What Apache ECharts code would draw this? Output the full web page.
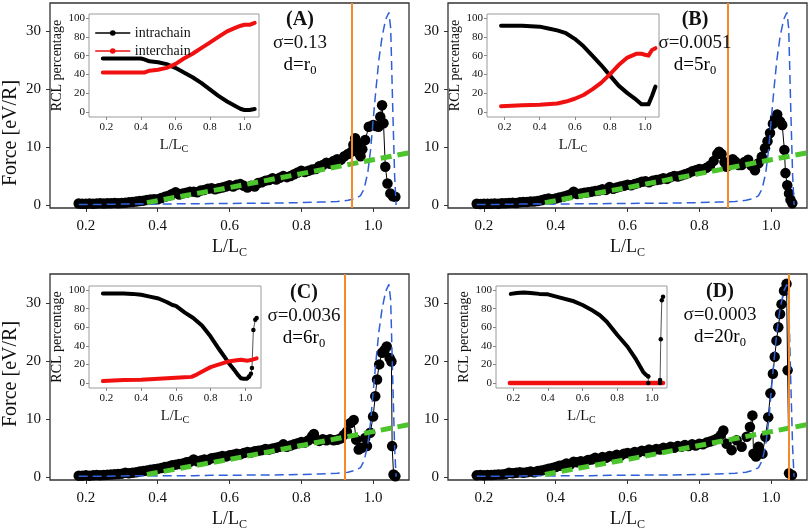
<!DOCTYPE html>
<html><head><meta charset="utf-8">
<script src="https://cdn.jsdelivr.net/npm/echarts@6/dist/echarts.min.js"></script>
<style>html,body{margin:0;padding:0;background:#fff}#c{width:810px;height:530px}</style>
</head><body><div id="c"></div>
<script>
// ---------------- DATA ----------------
const forceA = [[0.18,0.25],[0.19,0.2],[0.2,0.2],[0.21,0.25],[0.22,0.2],[0.23,0.25],[0.24,0.3],[0.25,0.25],[0.26,0.3],[0.27,0.3],[0.28,0.35],[0.29,0.3],[0.3,0.35],[0.31,0.4],[0.32,0.45],[0.33,0.5],[0.34,0.6],[0.35,0.7],[0.36,0.75],[0.37,0.85],[0.38,0.95],[0.39,1.0],[0.4,1.0],[0.41,1.2],[0.42,1.4],[0.43,1.6],[0.44,1.9],[0.45,2.2],[0.46,1.8],[0.47,2.0],[0.48,2.1],[0.49,2.3],[0.5,2.3],[0.51,2.2],[0.52,2.5],[0.53,2.6],[0.54,2.8],[0.55,2.9],[0.56,2.7],[0.57,2.9],[0.58,3.0],[0.59,3.2],[0.6,3.4],[0.61,3.2],[0.62,3.5],[0.63,3.6],[0.64,3.3],[0.65,3.0],[0.66,3.3],[0.67,3.2],[0.68,3.8],[0.69,3.9],[0.7,4.2],[0.71,4.3],[0.72,4.6],[0.73,4.4],[0.74,4.7],[0.75,5.0],[0.76,4.8],[0.77,5.0],[0.78,5.3],[0.79,5.6],[0.8,5.9],[0.81,5.7],[0.82,5.9],[0.83,6.1],[0.84,6.2],[0.85,6.7],[0.86,6.9],[0.87,7.3],[0.88,7.1],[0.89,7.6],[0.9,7.9],[0.91,7.8],[0.92,8.4],[0.93,8.8],[0.94,9.2],[0.945,10.4],[0.95,11.5],[0.955,10.5],[0.96,9.0],[0.965,8.4],[0.97,9.6],[0.978,11.2],[0.988,13.5],[1.0,13.8],[1.008,13.6],[1.015,13.5],[1.02,15.2],[1.025,17.2],[1.029,14.1],[1.034,6.6],[1.04,3.7],[1.048,2.0],[1.055,1.5],[1.062,1.4]];
const forceB = [[0.18,0.2],[0.19,0.15],[0.2,0.2],[0.21,0.2],[0.22,0.2],[0.23,0.25],[0.24,0.2],[0.25,0.3],[0.26,0.3],[0.27,0.35],[0.28,0.4],[0.29,0.35],[0.3,0.45],[0.31,0.5],[0.32,0.5],[0.33,0.6],[0.34,0.6],[0.35,0.7],[0.36,0.8],[0.37,1.0],[0.38,1.1],[0.39,1.0],[0.4,1.1],[0.41,1.3],[0.42,1.4],[0.43,1.6],[0.44,1.8],[0.45,2.3],[0.46,1.9],[0.47,2.0],[0.48,2.1],[0.49,2.2],[0.5,2.3],[0.51,2.4],[0.52,2.5],[0.53,2.7],[0.54,2.6],[0.55,3.1],[0.56,2.8],[0.57,3.0],[0.58,3.2],[0.59,3.3],[0.6,3.5],[0.61,3.4],[0.62,3.6],[0.63,3.8],[0.64,4.0],[0.65,4.1],[0.66,3.9],[0.67,4.2],[0.68,4.3],[0.69,4.4],[0.7,4.6],[0.71,4.5],[0.72,4.8],[0.73,5.0],[0.74,4.9],[0.75,5.1],[0.76,5.3],[0.77,5.5],[0.78,5.8],[0.79,6.0],[0.8,6.2],[0.81,6.1],[0.82,6.4],[0.83,6.8],[0.84,7.6],[0.85,8.8],[0.855,9.2],[0.862,8.8],[0.87,7.4],[0.876,6.6],[0.885,7.2],[0.893,7.9],[0.9,7.5],[0.91,6.9],[0.918,6.9],[0.926,7.4],[0.936,7.8],[0.945,6.8],[0.955,6.0],[0.965,7.2],[0.974,8.3],[0.983,9.8],[0.99,11.0],[0.997,12.4],[1.005,14.0],[1.011,15.0],[1.017,15.6],[1.025,14.4],[1.031,13.8],[1.037,9.5],[1.04,5.5],[1.045,3.4],[1.05,2.0],[1.054,0.9],[1.059,0.3]];
const forceC = [[0.18,0.2],[0.19,0.2],[0.2,0.25],[0.21,0.2],[0.22,0.25],[0.23,0.3],[0.24,0.25],[0.25,0.3],[0.26,0.35],[0.27,0.4],[0.28,0.45],[0.29,0.5],[0.3,0.55],[0.31,0.7],[0.32,0.6],[0.33,0.7],[0.34,0.8],[0.35,0.9],[0.36,1.0],[0.37,1.1],[0.38,1.2],[0.39,1.3],[0.4,1.4],[0.41,1.5],[0.42,1.7],[0.43,1.8],[0.44,2.0],[0.45,2.1],[0.46,2.2],[0.47,2.3],[0.48,2.5],[0.49,2.6],[0.5,3.0],[0.51,2.7],[0.52,2.8],[0.53,3.0],[0.54,2.9],[0.55,3.2],[0.56,3.3],[0.57,3.4],[0.58,3.6],[0.59,3.5],[0.6,3.7],[0.61,3.8],[0.62,4.0],[0.63,3.9],[0.64,4.1],[0.65,4.3],[0.66,4.2],[0.67,4.4],[0.68,4.5],[0.69,4.6],[0.7,4.8],[0.71,4.7],[0.72,4.9],[0.73,5.0],[0.74,5.2],[0.75,5.6],[0.76,5.2],[0.77,5.4],[0.78,5.6],[0.79,5.8],[0.8,6.0],[0.81,5.9],[0.82,6.3],[0.83,7.0],[0.835,7.4],[0.84,6.5],[0.85,6.2],[0.86,6.5],[0.87,6.3],[0.88,6.5],[0.89,6.3],[0.9,6.4],[0.909,6.6],[0.918,7.2],[0.927,7.8],[0.937,9.3],[0.946,9.8],[0.953,6.4],[0.96,4.7],[0.969,5.0],[0.978,6.7],[0.983,5.3],[0.992,7.6],[1.0,10.4],[1.006,13.9],[1.011,16.8],[1.017,19.4],[1.025,21.4],[1.032,21.9],[1.038,22.5],[1.046,20.5],[1.051,19.9],[1.053,5.3],[1.057,0.4],[1.062,0.1]];
const forceD = [[0.18,0.25],[0.19,0.3],[0.2,0.25],[0.21,0.3],[0.22,0.3],[0.23,0.35],[0.24,0.4],[0.25,0.4],[0.26,0.5],[0.27,0.7],[0.28,0.6],[0.29,0.7],[0.3,0.8],[0.31,0.7],[0.32,0.8],[0.33,0.9],[0.34,0.8],[0.35,1.0],[0.36,1.1],[0.37,1.2],[0.38,1.4],[0.39,1.5],[0.4,1.7],[0.41,1.9],[0.42,2.0],[0.43,2.3],[0.44,2.1],[0.45,2.6],[0.46,2.5],[0.47,2.7],[0.48,2.6],[0.49,2.9],[0.5,3.0],[0.51,3.3],[0.52,3.0],[0.53,3.4],[0.54,3.3],[0.55,3.6],[0.56,3.5],[0.57,3.8],[0.58,3.6],[0.59,4.0],[0.6,4.1],[0.61,4.0],[0.62,4.3],[0.63,4.2],[0.64,4.5],[0.65,4.4],[0.66,4.7],[0.67,4.5],[0.68,4.8],[0.69,4.7],[0.7,5.0],[0.71,4.9],[0.72,5.2],[0.73,5.0],[0.74,5.3],[0.75,5.2],[0.76,5.5],[0.77,5.3],[0.78,5.6],[0.79,5.4],[0.8,5.7],[0.81,5.6],[0.82,5.9],[0.83,6.1],[0.84,6.3],[0.85,6.6],[0.86,7.2],[0.867,8.0],[0.876,5.7],[0.89,4.6],[0.904,6.3],[0.918,5.2],[0.932,6.9],[0.941,8.6],[0.948,10.6],[0.951,4.0],[0.958,3.5],[0.965,5.2],[0.976,4.0],[0.984,6.9],[0.992,10.3],[0.998,14.4],[1.005,17.8],[1.01,20.7],[1.015,23.5],[1.02,25.8],[1.025,28.1],[1.029,29.8],[1.036,32.1],[1.043,33.3],[1.046,18.4],[1.05,0.6],[1.058,0.3]];
const modelCurve = [[0.18,0.1],[0.25,0.1],[0.3,0.15],[0.35,0.2],[0.4,0.15],[0.45,0.2],[0.5,0.2],[0.55,0.25],[0.6,0.25],[0.65,0.3],[0.7,0.3],[0.75,0.35],[0.8,0.4],[0.85,0.5],[0.9,0.6],[0.93,0.8],[0.95,1.1],[0.965,1.6],[0.975,2.8],[0.985,5.5],[0.993,9.5],[1.0,14.5],[1.008,20],[1.016,25],[1.025,29],[1.035,32],[1.044,33.2],[1.049,30.5],[1.055,16],[1.06,5],[1.064,0]];
const fitLine = [[0.37,0.4],[0.5,1.9],[0.6,3.0],[0.7,4.2],[0.8,5.4],[0.9,6.6],[1.0,7.8],[1.1,9.0]];
const breakPoints = [0.94, 0.881, 0.918, 1.048];

const intraA = [[0.18,57],[0.25,57],[0.3,57],[0.35,57],[0.4,57],[0.42,56],[0.45,54],[0.5,53],[0.55,51],[0.6,47],[0.65,42],[0.7,37],[0.75,31],[0.8,24],[0.85,17],[0.9,11],[0.95,6],[0.98,3],[1.0,2],[1.03,2],[1.06,3]];
const interA = [[0.18,42],[0.25,42],[0.3,42],[0.35,42],[0.42,42],[0.45,44],[0.5,45],[0.55,47],[0.6,51],[0.65,57],[0.7,62],[0.75,68],[0.8,74],[0.85,80],[0.9,86],[0.95,90],[0.98,92],[1.0,93],[1.03,93],[1.06,95]];
const intraB = [[0.18,92],[0.3,92],[0.4,91],[0.45,89],[0.5,87],[0.55,84],[0.6,78],[0.65,70],[0.7,60],[0.75,50],[0.8,39],[0.85,28],[0.9,20],[0.95,13],[0.98,8],[1.0,8],[1.02,8],[1.04,17],[1.05,22],[1.06,27]];
const interB = [[0.18,6],[0.3,7],[0.4,7.5],[0.5,9],[0.55,11],[0.6,14],[0.65,18],[0.7,24],[0.75,31],[0.8,40],[0.85,50],[0.9,58],[0.95,62],[0.98,62],[1.0,61],[1.02,60],[1.04,66],[1.06,68]];
const intraC = [[0.18,96.5],[0.25,96.5],[0.3,96.5],[0.35,96],[0.4,95],[0.45,93],[0.5,91],[0.55,87],[0.58,84],[0.6,83],[0.65,76],[0.7,70],[0.75,62],[0.8,50],[0.85,36],[0.88,28],[0.91,20],[0.94,13],[0.96,8],[0.975,5],[0.99,4.5],[1.01,4.5],[1.022,7]];
const intraCTail = [[1.022,7],[1.032,10],[1.038,16],[1.046,57],[1.057,68],[1.065,70]];
const interC = [[0.18,2],[0.3,3],[0.4,3.5],[0.5,4.5],[0.6,5.5],[0.65,6],[0.69,6.5],[0.72,9],[0.76,13],[0.8,17],[0.84,19.5],[0.9,23],[0.95,24.5],[0.975,25],[1.013,24],[1.04,25],[1.065,26.5]];
const intraD = [[0.185,96],[0.22,97],[0.26,97.5],[0.3,97],[0.35,96],[0.4,95.5],[0.47,92],[0.55,88],[0.6,84],[0.65,79],[0.7,73],[0.74,66],[0.8,52],[0.86,39],[0.91,25],[0.95,12],[0.965,9],[0.98,7]];
const intraDTail = [[0.98,7],[0.98,0],[1.048,0],[1.048,3],[1.052,47],[1.058,89],[1.065,93]];
const interD = [[0.18,0],[0.4,0],[0.6,0],[0.8,0],[1.0,0],[1.065,0]];

const panelLabels = ['(A)','(B)','(C)','(D)'];
const sigmaLabels = ['σ=0.13','σ=0.0051','σ=0.0036','σ=0.0003'];
const dLabels = [['d=r','0'],['d=5r','0'],['d=6r','0'],['d=20r','0']];
const mainXTicks = [0.2,0.4,0.6,0.8,1.0];
const mainYTicks = [0,10,20,30];
const insetXTicks = [0.2,0.4,0.6,0.8,1.0];
const insetYTicks = [0,20,40,60,80,100];
const yAxisTitle = 'Force [eV/R]';
const insetYTitle = 'RCL percentage';

// ---------------- LAYOUT ----------------
const F = "'Liberation Serif', 'Times New Roman', 'DejaVu Serif', serif";
const mainGrids = [
  {left:50, top:3, width:359, height:205},
  {left:448, top:3, width:359, height:205},
  {left:50, top:274, width:359, height:206},
  {left:448, top:274, width:359, height:206}];
const insetGrids = [
  {left:89, top:14, width:170, height:103},
  {left:487, top:14, width:172, height:103},
  {left:89, top:286, width:172, height:102},
  {left:496, top:286, width:171, height:102}];
const mainYRange = [[-0.52,34.83],[-0.52,34.83],[-0.55,35.0],[-0.55,35.0]];
const insetXMax = [1.085,1.08,1.09,1.088];

const subRich = (big, small, lh) => ({
  m:{fontFamily:F, fontSize:big, color:'#111', lineHeight:lh},
  s:{fontFamily:F, fontSize:small, color:'#111', verticalAlign:'bottom', lineHeight:small}
});

const grid = [], xAxis = [], yAxis = [], series = [];
mainGrids.forEach(g => grid.push(Object.assign({show:true, borderColor:'#333', borderWidth:1.3, backgroundColor:'transparent', containLabel:false, outerBoundsMode:'none'}, g)));
insetGrids.forEach(g => grid.push(Object.assign({show:true, borderColor:'#9a9a9a', borderWidth:1, backgroundColor:'#fff', containLabel:false, outerBoundsMode:'none', z:3}, g)));

for (let i=0;i<4;i++){
  xAxis.push({gridIndex:i, type:'value', min:0.1, max:1.1,
    axisLine:{show:false, onZero:false},
    axisTick:{show:true, inside:false, length:4, customValues:mainXTicks, lineStyle:{color:'#333'}},
    axisLabel:{customValues:mainXTicks, formatter:v=>v.toFixed(1), fontFamily:F, fontSize:15, color:'#111', margin:11},
    splitLine:{show:false},
    name:'{m|L/L}{s|C}', nameLocation:'middle', nameGap:27,
    nameTextStyle:{rich:subRich(18,12,24)}});
  yAxis.push({gridIndex:i, type:'value', min:mainYRange[i][0], max:mainYRange[i][1],
    axisLine:{show:false, onZero:false},
    axisTick:{show:true, inside:false, length:4, customValues:mainYTicks, lineStyle:{color:'#333'}},
    axisLabel:{customValues:mainYTicks, fontFamily:F, fontSize:15, color:'#111', margin:9},
    splitLine:{show:false}});
}
for (let i=0;i<4;i++){
  xAxis.push({gridIndex:4+i, type:'value', min:0.1, max:insetXMax[i], z:4,
    axisLine:{show:false, onZero:false},
    axisTick:{show:true, inside:false, length:3, customValues:insetXTicks, lineStyle:{color:'#888'}},
    axisLabel:{customValues:insetXTicks, formatter:v=>v.toFixed(1), fontFamily:F, fontSize:11, color:'#111', margin:5},
    splitLine:{show:false},
    name:'{m|L/L}{s|C}', nameLocation:'middle', nameGap:19,
    nameTextStyle:{rich:subRich(14.5,10,18)}});
  yAxis.push({gridIndex:4+i, type:'value', min:-5.5, max:104.5, z:4,
    axisLine:{show:false, onZero:false},
    axisTick:{show:true, inside:false, length:3, customValues:insetYTicks, lineStyle:{color:'#888'}},
    axisLabel:{customValues:insetYTicks, fontFamily:F, fontSize:11, color:'#111', margin:4},
    splitLine:{show:false},
    name:insetYTitle, nameLocation:'middle', nameGap:21,
    nameTextStyle:{fontFamily:F, fontSize:14, color:'#111'}});
}

// main panels
const forces = [forceA, forceB, forceC, forceD];
forces.forEach((f,i) => {
  series.push({name:'force'+i, type:'line', xAxisIndex:i, yAxisIndex:i, data:f,
    symbol:'circle', symbolSize:10.5, itemStyle:{color:'#000'}, lineStyle:{color:'#000', width:1}, z:2});
  series.push({name:'model'+i, type:'line', xAxisIndex:i, yAxisIndex:i, data:modelCurve,
    symbol:'none', lineStyle:{color:'#2f5fd8', width:1.5, type:[9,5]}, z:3});
  series.push({name:'fit'+i, type:'line', xAxisIndex:i, yAxisIndex:i, data:fitLine,
    symbol:'none', lineStyle:{color:'#4cc42c', width:5, type:[11,6]}, z:3,
    markLine:{silent:true, symbol:['none','none'], label:{show:false},
      lineStyle:{color:'#f48a2a', width:2, type:'solid'}, data:[{xAxis:breakPoints[i]}]}});
});

// insets
const thick = (name, idx, data, color, w) => ({name, type:'line', xAxisIndex:idx, yAxisIndex:idx, data,
  symbol:'none', lineStyle:{color, width:w, cap:'round', join:'round'}, itemStyle:{color}, z:5});
const thin = (name, idx, data, color) => ({name, type:'line', xAxisIndex:idx, yAxisIndex:idx, data,
  symbol:'circle', symbolSize:4.5, lineStyle:{color:'#555', width:1}, itemStyle:{color}, z:5});
series.push(thick('intrachain',4,intraA,'#000',4));
series.push(thick('interchain',4,interA,'#f01010',4));
series.push(thick('intrachain',5,intraB,'#000',4));
series.push(thick('interchain',5,interB,'#f01010',4));
series.push(thick('intrachain',6,intraC,'#000',4));
series.push(thin('intrachain',6,intraCTail,'#000'));
series.push(thick('interchain',6,interC,'#f01010',4));
series.push(thick('intrachain',7,intraD,'#000',4));
series.push(thin('intrachain',7,intraDTail,'#000'));
series.push(thick('interchain',7,interD,'#f01010',4.5));

// texts
const annX = [300, 695, 304, 720];
const annY = [20, 20, 293, 292];
const graphic = [];
for (let i=0;i<4;i++){
  graphic.push({type:'text', x:annX[i], y:annY[i], z:10,
    style:{text:panelLabels[i], fontFamily:F, fontSize:20, fontWeight:'bold', fill:'#111', align:'center', verticalAlign:'middle'}});
  graphic.push({type:'text', x:annX[i], y:annY[i]+23, z:10,
    style:{text:sigmaLabels[i], fontFamily:F, fontSize:19, fill:'#111', align:'center', verticalAlign:'middle'}});
  graphic.push({type:'text', x:annX[i], y:annY[i]+45, z:10,
    style:{text:'{m|'+dLabels[i][0]+'}{s|'+dLabels[i][1]+'}', rich:subRich(19,12.5,24), align:'center', verticalAlign:'middle'}});
}
graphic.push({type:'text', x:11, y:133, rotation:Math.PI/2, z:10,
  style:{text:yAxisTitle, fontFamily:F, fontSize:20, fill:'#111', align:'center', verticalAlign:'middle'}});
graphic.push({type:'text', x:11, y:374, rotation:Math.PI/2, z:10,
  style:{text:yAxisTitle, fontFamily:F, fontSize:20, fill:'#111', align:'center', verticalAlign:'middle'}});

const chart = echarts.init(document.getElementById('c'), null, {renderer:'canvas'});
chart.setOption({
  animation:false,
  backgroundColor:'#fff',
  textStyle:{fontFamily:F},
  grid, xAxis, yAxis, series, graphic,
  legend:{show:true, selectedMode:false, data:['intrachain','interchain'], orient:'vertical',
    left:90, top:21, itemWidth:34, itemHeight:7, itemGap:4, z:8,
    lineStyle:{width:1.5}, textStyle:{fontFamily:F, fontSize:14, color:'#111'}}
});
</script></body></html>
